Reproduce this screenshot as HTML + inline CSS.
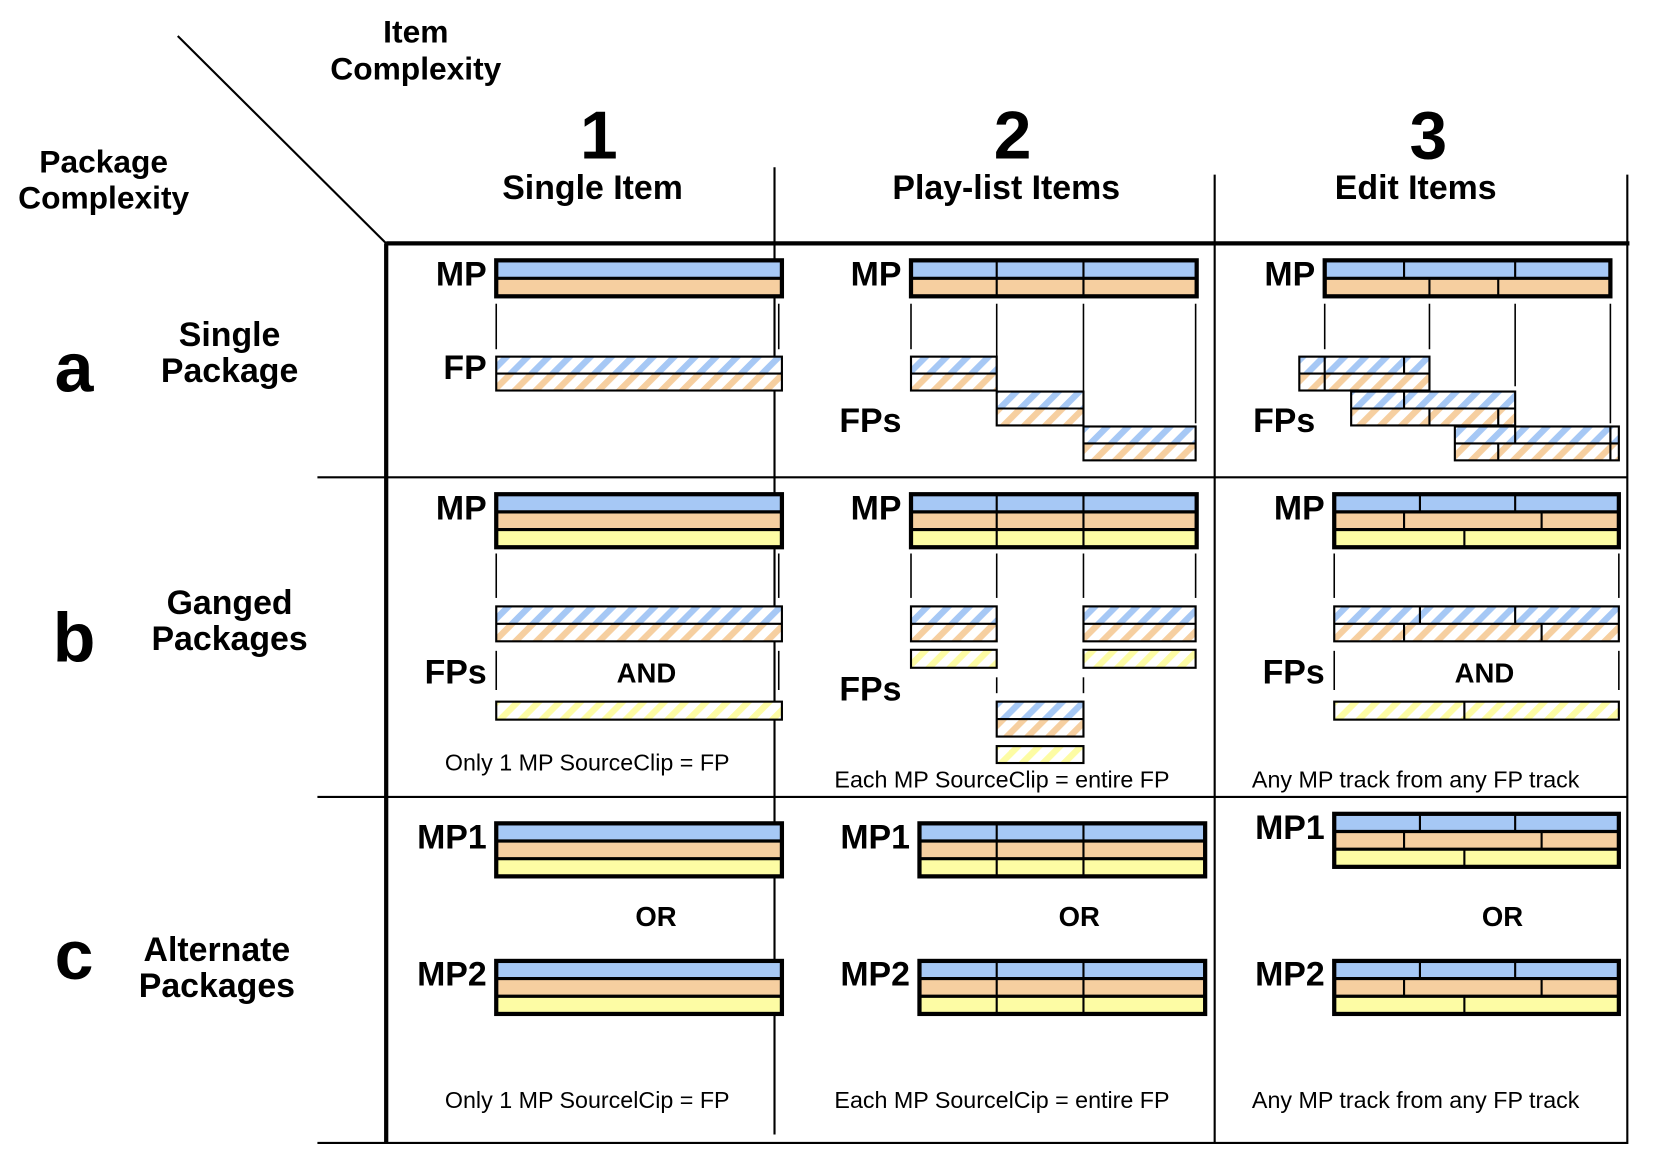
<!DOCTYPE html>
<html><head><meta charset="utf-8"><style>
html,body{margin:0;padding:0;background:#fff;}
svg{display:block;}
text{font-family:"Liberation Sans",sans-serif;fill:#000;}
.b{font-weight:bold;}
</style></head><body>
<svg id="s" width="1658" height="1162" viewBox="0 0 1567 1098" preserveAspectRatio="none" xmlns="http://www.w3.org/2000/svg">
<defs>
<pattern id="hB" width="14" height="14" patternUnits="userSpaceOnUse" patternTransform="rotate(45)"><rect width="14" height="14" fill="#fff"/><rect width="6" height="14" fill="#a6c8f5"/></pattern>
<pattern id="hO" width="14" height="14" patternUnits="userSpaceOnUse" patternTransform="rotate(45)"><rect width="14" height="14" fill="#fff"/><rect width="6" height="14" fill="#f6cfa0"/></pattern>
<pattern id="hY" width="14" height="14" patternUnits="userSpaceOnUse" patternTransform="rotate(45)"><rect width="14" height="14" fill="#fff"/><rect width="6" height="14" fill="#fdfca4"/></pattern>
</defs>
<g stroke="#000" fill="none">
<line x1="168" y1="34" x2="365" y2="230" stroke-width="2"/>
<line x1="365" y1="230" x2="1540" y2="230" stroke-width="4"/>
<line x1="365" y1="230" x2="365" y2="1081" stroke-width="4"/>
<line x1="732" y1="158" x2="732" y2="1072" stroke-width="2"/>
<line x1="1148" y1="165" x2="1148" y2="1081" stroke-width="2"/>
<line x1="1538" y1="165" x2="1538" y2="1081" stroke-width="2"/>
<line x1="300" y1="451" x2="1538" y2="451" stroke-width="2"/>
<line x1="300" y1="753" x2="1538" y2="753" stroke-width="2"/>
<line x1="300" y1="1080" x2="1538" y2="1080" stroke-width="2"/>
</g>
<g id="shapes"></g>
<g class="b">
<text x="393" y="40" font-size="30" text-anchor="middle" class="b">Item</text>
<text x="393" y="75" font-size="30" text-anchor="middle" class="b">Complexity</text>
<text x="98" y="163" font-size="30" text-anchor="middle" class="b">Package</text>
<text x="98" y="197" font-size="30" text-anchor="middle" class="b">Complexity</text>
<text x="566" y="150" font-size="64" text-anchor="middle" class="b">1</text>
<text x="957" y="150" font-size="64" text-anchor="middle" class="b">2</text>
<text x="1350" y="150" font-size="64" text-anchor="middle" class="b">3</text>
<text x="560" y="188" font-size="32" text-anchor="middle" class="b">Single Item</text>
<text x="951" y="188" font-size="32" text-anchor="middle" class="b">Play-list Items</text>
<text x="1338" y="188" font-size="32" text-anchor="middle" class="b">Edit Items</text>
<text x="70" y="370" font-size="66" text-anchor="middle" class="b">a</text>
<text x="70" y="625" font-size="66" text-anchor="middle" class="b">b</text>
<text x="70" y="925" font-size="66" text-anchor="middle" class="b">c</text>
<text x="217" y="327" font-size="32" text-anchor="middle" class="b">Single</text>
<text x="217" y="361" font-size="32" text-anchor="middle" class="b">Package</text>
<text x="217" y="580" font-size="32" text-anchor="middle" class="b">Ganged</text>
<text x="217" y="614" font-size="32" text-anchor="middle" class="b">Packages</text>
<text x="205" y="908" font-size="32" text-anchor="middle" class="b">Alternate</text>
<text x="205" y="942" font-size="32" text-anchor="middle" class="b">Packages</text>
<text x="460" y="270" font-size="32" text-anchor="end" class="b">MP</text>
<text x="460" y="358" font-size="32" text-anchor="end" class="b">FP</text>
<text x="852" y="270" font-size="32" text-anchor="end" class="b">MP</text>
<text x="852" y="408" font-size="32" text-anchor="end" class="b">FPs</text>
<text x="1243" y="270" font-size="32" text-anchor="end" class="b">MP</text>
<text x="1243" y="408" font-size="32" text-anchor="end" class="b">FPs</text>
<text x="460" y="491" font-size="32" text-anchor="end" class="b">MP</text>
<text x="460" y="646" font-size="32" text-anchor="end" class="b">FPs</text>
<text x="852" y="491" font-size="32" text-anchor="end" class="b">MP</text>
<text x="852" y="662" font-size="32" text-anchor="end" class="b">FPs</text>
<text x="1252" y="491" font-size="32" text-anchor="end" class="b">MP</text>
<text x="1252" y="646" font-size="32" text-anchor="end" class="b">FPs</text>
<text x="611" y="645" font-size="26" text-anchor="middle" class="b">AND</text>
<text x="1403" y="645" font-size="26" text-anchor="middle" class="b">AND</text>
<text x="460" y="802" font-size="32" text-anchor="end" class="b">MP1</text>
<text x="460" y="931" font-size="32" text-anchor="end" class="b">MP2</text>
<text x="860" y="802" font-size="32" text-anchor="end" class="b">MP1</text>
<text x="860" y="931" font-size="32" text-anchor="end" class="b">MP2</text>
<text x="1252" y="793" font-size="32" text-anchor="end" class="b">MP1</text>
<text x="1252" y="931" font-size="32" text-anchor="end" class="b">MP2</text>
<text x="620" y="875" font-size="26" text-anchor="middle" class="b">OR</text>
<text x="1020" y="875" font-size="26" text-anchor="middle" class="b">OR</text>
<text x="1420" y="875" font-size="26" text-anchor="middle" class="b">OR</text>
</g>
<g font-size="22" text-anchor="middle">
<text x="555" y="728">Only 1 MP SourceClip = FP</text>
<text x="947" y="744">Each MP SourceClip = entire FP</text>
<text x="1338" y="744">Any MP track from any FP track</text>
<text x="555" y="1047">Only 1 MP SourcelCip = FP</text>
<text x="947" y="1047">Each MP SourcelCip = entire FP</text>
<text x="1338" y="1047">Any MP track from any FP track</text>
</g>
</svg>
<script>
var g=document.getElementById('shapes'),h='';
var C={B:'#a6c8f5',O:'#f6cfa0',Y:'#fdfca4'};
function bar(x1,x2,y,tr,dv,thick,th){
 th=th||16.7;var n=tr.length,H=th*n,sw=thick?4:2,iw=thick?3:2;
 for(var i=0;i<n;i++){var f=thick?C[tr[i]]:'url(#h'+tr[i]+')';
  h+='<rect x="'+x1+'" y="'+(y+i*th)+'" width="'+(x2-x1)+'" height="'+th+'" fill="'+f+'"/>';
  var d=(dv&&dv[i])||[];d.forEach(function(x){h+='<line x1="'+x+'" y1="'+(y+i*th)+'" x2="'+x+'" y2="'+(y+(i+1)*th)+'" stroke="#000" stroke-width="2"/>';});
  if(i>0)h+='<line x1="'+x1+'" y1="'+(y+i*th)+'" x2="'+x2+'" y2="'+(y+i*th)+'" stroke="#000" stroke-width="'+iw+'"/>';}
 h+='<rect x="'+x1+'" y="'+y+'" width="'+(x2-x1)+'" height="'+H+'" fill="none" stroke="#000" stroke-width="'+sw+'"/>';
}
function vl(x,y1,y2){h+='<line x1="'+x+'" y1="'+y1+'" x2="'+x+'" y2="'+y2+'" stroke="#000" stroke-width="1.5"/>';}
bar(469,739,246,'BO',null,1,17);vl(469,287,330);vl(736,287,330);
bar(469,739,337,'BO',null,0,16);
var d2=[942,1024];
bar(861,1131,246,'BO',[d2,d2],1,17);
vl(861,287,330);vl(942,287,365);vl(1024,287,400);vl(1130,287,400);
bar(861,942,337,'BO',null,0,16);bar(942,1024,370,'BO',null,0,16);bar(1024,1130,403,'BO',null,0,16);
bar(1252,1522,246,'BO',[[1327,1432],[1351,1416]],1,17);
vl(1252,287,330);vl(1351,287,330);vl(1432,287,365);vl(1522,287,400);
bar(1228,1351,337,'BO',[[1252,1327],[1252]],0,16);
bar(1277,1432,370,'BO',[[1327],[1351,1416]],0,16);
bar(1375,1530,403,'BO',[[1432,1522],[1416,1522]],0,16);
bar(469,739,467,'BOY',null,1);vl(469,523,565);vl(736,523,565);
bar(469,739,573,'BO',null,0,16.5);vl(469,615,652);vl(736,615,652);
bar(469,739,663,'Y',null,0,17);
bar(861,1131,467,'BOY',[d2,d2,d2],1);
vl(861,523,565);vl(942,523,565);vl(1024,523,565);vl(1130,523,565);
bar(861,942,573,'BO',null,0,16.5);bar(861,942,614,'Y',null,0,17);
bar(1024,1130,573,'BO',null,0,16.5);bar(1024,1130,614,'Y',null,0,17);
vl(942,640,655);vl(1024,640,655);
bar(942,1024,663,'BO',null,0,16.5);bar(942,1024,705,'Y',null,0,16);
var e3=[[1342,1432],[1327,1457],[1384]];
bar(1261,1530,467,'BOY',e3,1);vl(1261,523,565);vl(1530,523,565);
bar(1261,1530,573,'BO',[[1342,1432],[1327,1457]],0,16.5);vl(1261,615,652);vl(1530,615,652);
bar(1261,1530,663,'Y',[[1384]],0,17);
bar(469,739,778,'BOY',null,1);bar(469,739,908,'BOY',null,1);
bar(869,1139,778,'BOY',[d2,d2,d2],1);bar(869,1139,908,'BOY',[d2,d2,d2],1);
bar(1261,1530,769,'BOY',e3,1);bar(1261,1530,908,'BOY',e3,1);
g.innerHTML=h;
</script>
</body></html>
